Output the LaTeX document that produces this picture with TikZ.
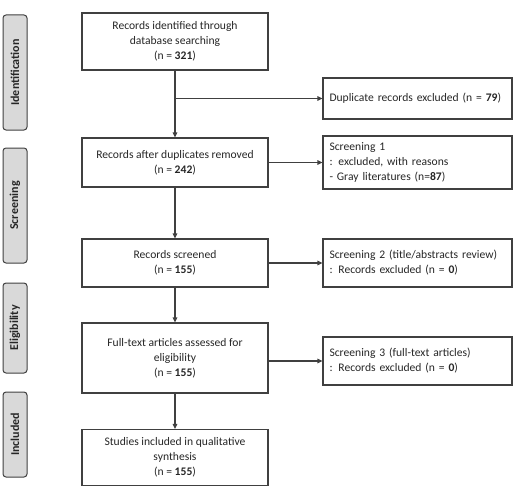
\documentclass[tikz,border=0pt]{standalone}
\usepackage{fontspec}
\setmainfont{Carlito}
\usetikzlibrary{arrows.meta}
\definecolor{edge}{HTML}{404040}
\definecolor{sidefill}{HTML}{D9D9D9}
\begin{document}
\begin{tikzpicture}[x=1pt,y=-1pt,
  mainbox/.style={draw=edge,line width=1.1pt,minimum width=186pt,align=center,font=\fontsize{11.6}{15}\selectfont,inner sep=0pt,text=black!85},
  sidebox/.style={draw=edge,line width=1.1pt,minimum width=189pt,align=left,text width=176pt,inner xsep=6.5pt,inner ysep=0pt,font=\fontsize{11.6}{15}\selectfont,text=black!85},
  phase/.style={draw=edge,line width=1pt,fill=sidefill,rounded corners=3pt,rotate=90,minimum height=24pt,inner sep=0pt,font=\fontsize{12}{14}\selectfont\bfseries,text=black!85},
  link/.style={draw=edge,line width=1.1pt,-{Triangle[length=5pt,width=4.5pt]}}]
\useasboundingbox (0,0) rectangle (516,487);
% phase labels
\node[phase,minimum width=115pt] (pid) at (15,72.5) {Identification};
\node[phase,minimum width=115pt] (psc) at (15,205.5) {Screening};
\node[phase,minimum width=90pt] (pel) at (15,328) {Eligibility};
\node[phase,minimum width=85pt] (pin) at (15,434.5) {Included};
% main boxes
\node[mainbox,minimum height=57pt] (b1) at (175,41.5) {Records identified through\\database searching\\(n = \textbf{321})};
\node[mainbox,minimum height=49pt] (b2) at (175,162.5) {Records after duplicates removed\\(n = \textbf{242})};
\node[mainbox,minimum height=48pt] (b3) at (175,263) {Records screened\\(n = \textbf{155})};
\node[mainbox,minimum height=70pt] (b4) at (175,358) {Full-text articles assessed for\\eligibility\\(n = \textbf{155})};
\node[mainbox,minimum height=56pt] (b5) at (175,457.5) {Studies included in qualitative\\synthesis\\(n = \textbf{155})};
% side boxes
\node[sidebox,minimum height=41pt] (r1) at (417.5,98.5) {\mbox{Duplicate records excluded (n = \textbf{79})}};
\node[sidebox,minimum height=53pt] (r2) at (417.5,162.5) {Screening 1\\: excluded, with reasons\\- Gray literatures (n=\textbf{87})};
\node[sidebox,minimum height=48pt] (r3) at (417.5,263) {\mbox{Screening 2 (title/abstracts review)}\\: Records excluded (n = \textbf{0})};
\node[sidebox,minimum height=48pt] (r4) at (417.5,361) {Screening 3 (full-text articles)\\: Records excluded (n = \textbf{0})};
% connectors
\coordinate (j1) at (b1.south |- r1.west);
\draw[link] (b1) -- (b2);
\draw[link] (j1) -- (r1);
\draw[link] (b2) -- (b3);
\draw[link] (b3) -- (b4);
\draw[link] (b4) -- (b5);
\draw[link] (b2.east) -- (r2.west);
\draw[link] (b3.east) -- (r3.west);
\draw[link] (r4.west -| b4.east) -- (r4.west);
\end{tikzpicture}
\end{document}
